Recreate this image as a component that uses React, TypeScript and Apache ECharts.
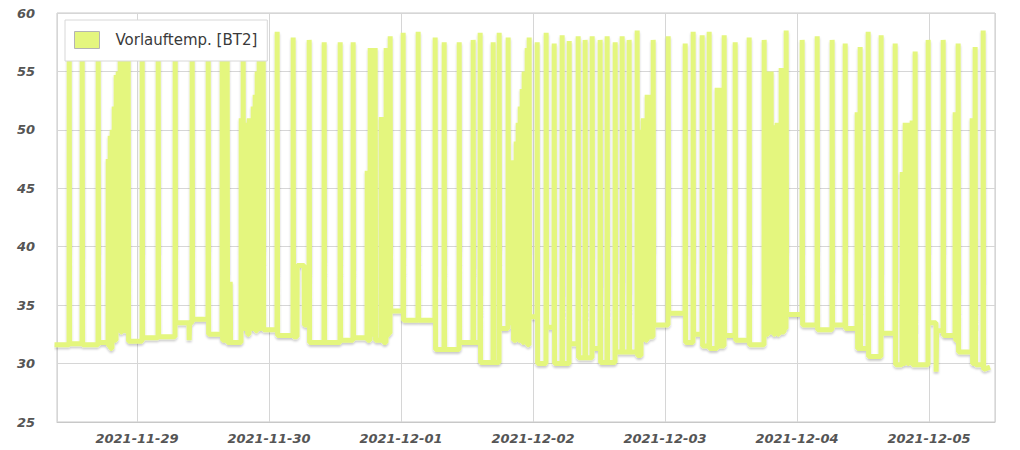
import React, { useEffect, useRef } from "react";
import * as echarts from "echarts";

// Hours since 2021-11-28 00:00 (local time)
const DAY0 = new Date(2021, 10, 28).getTime();
const HOUR = 3600000;

const seriesName = "Vorlauftemp. [BT2]";
const yTicks = [25, 30, 35, 40, 45, 50, 55, 60];
const rangeStartHour = 9.45;
const rangeEndHour = 180;

const startPoint: [number, number] = [9.0, 31.6];
const endPoint: [number, number] = [179.1, 29.7];

// [hour, peak value, level after the pulse, optional duration in hours]
const pulses: number[][] = [
  [11.64, 58, 31.7], [14.0, 58, 31.6], [16.91, 58, 31.8],
  [18.73, 47.5, 31.5], [19.09, 49.5, 31.3], [19.45, 50, 32.5], [19.82, 52, 32],
  [20.18, 54.7, 33], [20.55, 55, 33.3], [20.91, 57.5, 32.7], [21.27, 58, 33.5],
  [21.64, 58, 32.8], [22.0, 58, 33.2], [22.36, 58, 31.9],
  [24.91, 58, 32.2], [27.82, 58, 32.3], [30.91, 58, 33.5], [33.45, 32, 33.5],
  [34.0, 58, 33.8], [36.91, 58, 32.5], [39.45, 58, 32.0], [40.36, 58, 31.8],
  [40.91, 37, 31.8],
  [42.91, 51, 33.5], [43.27, 58, 33], [43.64, 50.6, 33.8], [44.0, 50.6, 32.5],
  [44.36, 51, 34], [44.73, 51, 33], [45.09, 52, 33.7], [45.45, 53, 32.8],
  [45.82, 55, 33.5], [46.18, 56, 33], [46.55, 58, 33.5], [46.91, 58, 32.9],
  [49.45, 58.4, 32.4], [52.36, 57.9, 32.3], [53.09, 38.4, 33.3, 1.3],
  [55.27, 57.7, 31.8], [58.0, 57.5, 31.8], [60.91, 57.5, 32.0], [63.27, 57.5, 32.2],
  [65.82, 46.5, 32], [66.36, 57, 33], [66.73, 57, 32.5], [67.27, 57, 32],
  [68.36, 51.1, 32.5], [68.73, 51, 31.8], [69.27, 57, 32.4], [69.64, 55, 32.6],
  [70.0, 58, 34.5],
  [72.36, 58.3, 33.7], [75.09, 58.4, 33.7], [78.18, 57.9, 31.2], [79.82, 57.5, 31.2],
  [82.55, 57.5, 31.8], [85.09, 57.7, 31.8], [86.36, 58.3, 30.1], [88.73, 57.5, 30.1],
  [89.82, 58.3, 33], [91.45, 57.9, 33.5], [92.36, 47.4, 32], [92.91, 49, 33],
  [93.27, 50.6, 32], [93.64, 52, 33.5], [94.0, 53.5, 31.8], [94.36, 55, 33],
  [94.91, 57, 31.6], [95.27, 57.9, 34.0],
  [96.73, 57.5, 30.0], [98.36, 58.3, 33.1], [99.82, 57.4, 30.0], [101.27, 58.1, 30.0],
  [102.55, 57.6, 31.7], [104.18, 58, 30.5], [105.45, 57.7, 30.5], [106.73, 58, 31.3],
  [108.18, 57.7, 30.1], [109.45, 58, 30.1], [110.91, 57.5, 31.0], [112.18, 58, 31.0],
  [113.45, 57.7, 31.0], [114.91, 58.5, 30.7],
  [115.64, 50, 32], [116.0, 51, 32.5], [116.36, 50.5, 32], [116.73, 53, 32.5],
  [117.09, 52, 32.3], [117.45, 53, 32.3], [117.82, 57.7, 33.3], [120.55, 58, 34.3],
  [123.64, 57.4, 31.8], [125.09, 58.4, 32.5], [126.73, 58.1, 31.5], [128.0, 58.4, 31.3],
  [129.45, 53.6, 31.5], [130.0, 53.6, 31.5], [130.73, 58.1, 32.4], [132.73, 57.5, 32.0],
  [135.27, 57.9, 31.6], [138.0, 57.7, 32.5],
  [138.73, 55, 32.7], [139.27, 55, 33], [139.64, 50.4, 32.5], [140.0, 49.5, 33],
  [140.36, 50.6, 32.5], [140.73, 49.3, 33], [141.09, 55.3, 32.7], [141.64, 55.3, 33],
  [142.0, 58.5, 34.2], [144.91, 57.7, 33.3], [147.64, 58, 32.9], [150.36, 57.7, 33.3],
  [152.73, 57.4, 33.0], [154.91, 51.5, 31.3], [155.45, 57.1, 31.3], [156.91, 58.4, 30.6],
  [159.27, 58.1, 32.6], [161.82, 57.4, 29.9],
  [163.09, 46.4, 30], [163.64, 50.6, 30.5], [164.0, 50.6, 30], [164.36, 50.6, 30.3],
  [164.91, 50.8, 29.9], [165.45, 56.7, 29.9],
  [167.82, 57.7, 33.5], [169.27, 29.3, 32.8], [170.55, 57.7, 32.4],
  [172.73, 51.5, 32], [173.27, 57.4, 31.0], [175.82, 51, 30], [176.36, 57.1, 29.9],
  [177.82, 58.5, 29.5],
];

const LINE_COLOR = "#e4f67e";

function buildData(): [number, number][] {
  const out: [number, number][] = [];
  out.push([DAY0 + startPoint[0] * HOUR, startPoint[1]]);
  let prev = startPoint[1];
  for (const p of pulses) {
    const [h, peak, after] = p;
    const w = p.length > 3 ? p[3] : 0.08;
    out.push([DAY0 + h * HOUR, prev]);
    out.push([DAY0 + (h + 0.03) * HOUR, peak]);
    out.push([DAY0 + (h + w) * HOUR, peak]);
    out.push([DAY0 + (h + w + 0.03) * HOUR, after]);
    prev = after;
  }
  out.push([DAY0 + endPoint[0] * HOUR, endPoint[1]]);
  return out;
}

export default function App() {
  const ref = useRef<HTMLDivElement>(null);
  useEffect(() => {
    if (!ref.current) return;
    const chart = echarts.init(ref.current, undefined, { renderer: "svg" });
    const labelFont = {
      fontFamily: "DejaVu Sans",
      fontStyle: "italic" as const,
      fontWeight: "bold" as const,
      fontSize: 13,
      color: "#555",
    };
    chart.setOption({
      animation: false,
      backgroundColor: "#fff",
      grid: {
        left: 57,
        right: 25,
        top: 13,
        bottom: 28,
        show: true,
        borderColor: "#c8c8c8",
        borderWidth: 1,
      },
      legend: {
        left: 65,
        top: 20,
        data: [seriesName],
        icon: "rect",
        itemWidth: 25,
        itemHeight: 17,
        padding: [11, 10, 12, 9],
        backgroundColor: "#fff",
        borderColor: "#d8d8d8",
        borderWidth: 1,
        borderRadius: 0,
        itemStyle: { color: LINE_COLOR, borderColor: "#b4b4b4", borderWidth: 1 },
        lineStyle: { width: 0 },
        textStyle: {
          fontFamily: "DejaVu Sans",
          fontSize: 15,
          color: "#3a3a3a",
          padding: [0, 0, 0, 11],
        },
      },
      xAxis: {
        type: "time",
        min: DAY0 + rangeStartHour * HOUR,
        max: DAY0 + rangeEndHour * HOUR,
        minInterval: 24 * HOUR,
        maxInterval: 24 * HOUR,
        splitNumber: 7,
        axisLine: { show: true, lineStyle: { color: "#c8c8c8" } },
        axisTick: { show: false },
        splitLine: { show: true, lineStyle: { color: "#d6d6d6", width: 1 } },
        axisLabel: {
          ...labelFont,
          margin: 10,
          showMinLabel: false,
          showMaxLabel: false,
          formatter: "{yyyy}-{MM}-{dd}",
        },
      },
      yAxis: {
        type: "value",
        min: yTicks[0],
        max: yTicks[yTicks.length - 1],
        interval: 5,
        axisLine: { show: false },
        axisTick: { show: false },
        splitLine: { show: true, lineStyle: { color: "#d6d6d6", width: 1 } },
        axisLabel: { ...labelFont, margin: 22 },
      },
      series: [
        {
          name: seriesName,
          type: "line",
          data: buildData(),
          showSymbol: false,
          symbol: "none",
          color: LINE_COLOR,
          lineStyle: {
            color: LINE_COLOR,
            width: 5,
            join: "bevel",
            shadowColor: "rgba(0,0,0,0.2)",
            shadowBlur: 2,
            shadowOffsetY: 2,
          },
          z: 2,
        },
      ],
    });
    return () => chart.dispose();
  }, []);
  return (
    <div
      ref={ref}
      style={{ position: "absolute", left: 0, top: 0, width: 1020, height: 450 }}
    />
  );
}
